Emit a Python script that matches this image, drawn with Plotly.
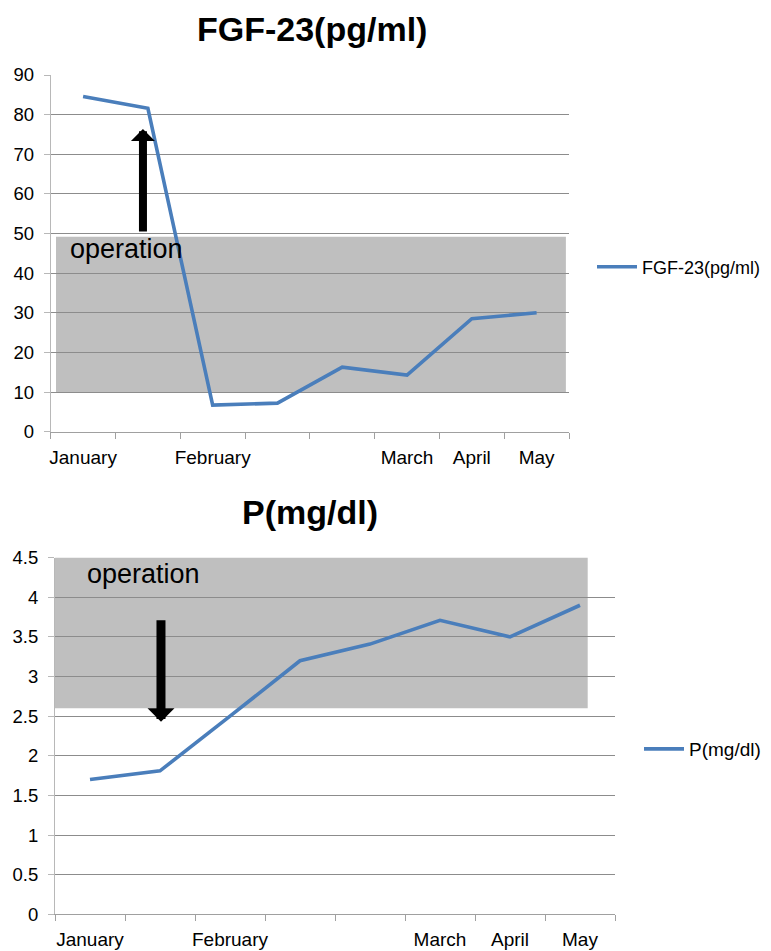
import plotly.graph_objects as go

# ---- data ----
month_labels = ["January", "", "February", "", "", "March", "April", "May"]
fgf23_values = [84.6, 81.6, 6.7, 7.2, 16.3, 14.3, 28.5, 30.0]
p_values = [1.7, 1.81, 2.5, 3.2, 3.41, 3.71, 3.5, 3.9]
fgf_title = "FGF-23(pg/ml)"
p_title = "P(mg/dl)"

W, H = 771, 951
FONT = "Liberation Sans, Arial, Helvetica, sans-serif"
LINE_COLOR = "#4a7ebb"
GRID = "#8c8c8c"

x_idx = list(range(len(month_labels)))
tick_idx = [i for i, m in enumerate(month_labels) if m]
tick_txt = [m for m in month_labels if m]
bounds = [i - 0.5 for i in range(len(month_labels) + 1)]

fig = go.Figure()
fig.add_trace(go.Scatter(x=x_idx, y=fgf23_values, mode="lines", name=fgf_title,
                         line=dict(color=LINE_COLOR, width=3.6),
                         xaxis="x", yaxis="y", legend="legend"))
fig.add_trace(go.Scatter(x=x_idx, y=p_values, mode="lines", name=p_title,
                         line=dict(color=LINE_COLOR, width=3.6),
                         xaxis="x2", yaxis="y2", legend="legend2"))


def px_x(p):
    return p / W


def px_y(p):
    return (H - p) / H


xcommon = dict(range=[-0.5, 7.5], tickmode="array", tickvals=tick_idx, ticktext=tick_txt,
               ticks="", showgrid=False, zeroline=False, showline=True,
               linecolor="#a0a0a0", linewidth=1, automargin=False,
               ticklabelstandoff=8,
               tickfont=dict(family=FONT, size=19, color="black"),
               minor=dict(tickmode="array", tickvals=bounds, ticks="outside",
                          ticklen=6, tickcolor="#a0a0a0", showgrid=False),
               fixedrange=True)
ycommon = dict(showgrid=True, gridcolor=GRID, gridwidth=1, zeroline=False,
               showline=True, linecolor="#b8b8b8", linewidth=1, automargin=False,
               ticks="outside", ticklen=6, tickcolor="#b8b8b8",
               ticklabelstandoff=6,
               tickfont=dict(family=FONT, size=18.5, color="black"), fixedrange=True)

fig.update_layout(
    width=W, height=H, autosize=False,
    margin=dict(l=0, r=0, t=0, b=0),
    paper_bgcolor="white", plot_bgcolor="white",
    font=dict(family=FONT, color="black"),
    xaxis=dict(domain=[px_x(50.7), px_x(569)], anchor="y", **xcommon),
    yaxis=dict(domain=[px_y(431.7), px_y(75)], anchor="x", range=[0, 90],
               dtick=10, tick0=0, **ycommon),
    xaxis2=dict(domain=[px_x(55), px_x(615)], anchor="y2", **xcommon),
    yaxis2=dict(domain=[px_y(914.3), px_y(557.7)], anchor="x2", range=[0, 4.5],
                dtick=0.5, tick0=0, **ycommon),
    legend=dict(x=px_x(592), y=px_y(267), xanchor="left", yanchor="middle",
                font=dict(family=FONT, size=18, color="black"),
                bgcolor="rgba(0,0,0,0)", itemwidth=40, borderwidth=0),
    legend2=dict(x=px_x(639), y=px_y(749), xanchor="left", yanchor="middle",
                 font=dict(family=FONT, size=19, color="black"),
                 bgcolor="rgba(0,0,0,0)", itemwidth=40, borderwidth=0),
    showlegend=True,
)

# grey reference bands
fig.add_shape(type="rect", xref="x", yref="y", x0=-0.418, x1=7.452, y0=10, y1=49.2,
              fillcolor="#bfbfbf", line=dict(width=0), layer="below")
fig.add_shape(type="rect", xref="x2", yref="y2", x0=-0.5, x1=7.11, y0=2.6, y1=4.56,
              fillcolor="#bfbfbf", line=dict(width=0), layer="below")

# titles
fig.add_annotation(text="<b>" + fgf_title + "</b>", xref="paper", yref="paper",
                   x=px_x(311.7), y=px_y(29), xanchor="center", yanchor="middle",
                   showarrow=False, font=dict(family=FONT, size=34, color="black"))
fig.add_annotation(text="<b>" + p_title + "</b>", xref="paper", yref="paper",
                   x=px_x(310), y=px_y(512), xanchor="center", yanchor="middle",
                   showarrow=False, font=dict(family=FONT, size=34, color="black"))

# operation labels
fig.add_annotation(text="operation", xref="paper", yref="paper",
                   x=px_x(126.5), y=px_y(249), xanchor="center", yanchor="middle",
                   showarrow=False, font=dict(family=FONT, size=27, color="black"))
fig.add_annotation(text="operation", xref="paper", yref="paper",
                   x=px_x(143.3), y=px_y(574), xanchor="center", yanchor="middle",
                   showarrow=False, font=dict(family=FONT, size=27, color="black"))

# arrows
fig.add_annotation(xref="x", yref="y", x=0.924, y=76.4, ax=0, ay=104, text="",
                   showarrow=True, arrowhead=1, arrowsize=0.5, arrowwidth=8,
                   arrowcolor="black")
fig.add_annotation(xref="x2", yref="y2", x=1.014, y=2.43, ax=0, ay=-103, text="",
                   showarrow=True, arrowhead=1, arrowsize=0.5, arrowwidth=9,
                   arrowcolor="black")

fig.write_html("out.html", config={"displayModeBar": False},
               post_script="document.body.style.margin='0';document.body.style.overflow='hidden';")
